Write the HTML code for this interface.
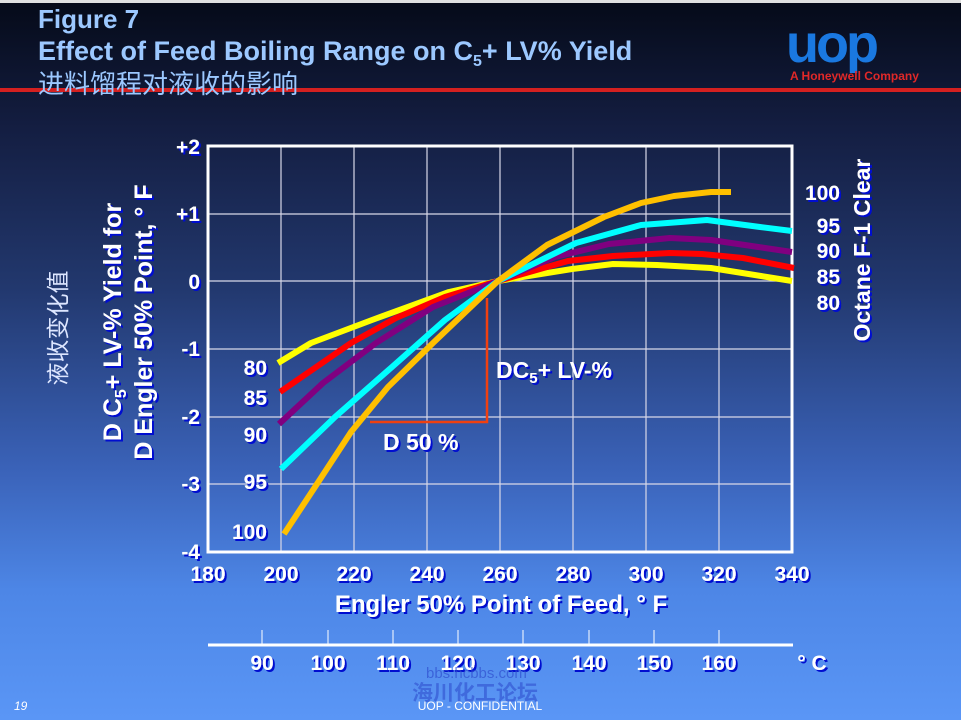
<!DOCTYPE html>
<html><head><meta charset="utf-8"><style>
body{margin:0;width:961px;height:720px;overflow:hidden;}
#bg{position:absolute;left:0;top:0;width:961px;height:720px;background:linear-gradient(180deg,#050a18 0%,#141e42 18%,#22386e 40%,#3a62b8 65%,#4d86e6 82%,#5a96f6 100%);}
svg{position:absolute;left:0;top:0;}
text{font-family:"Liberation Sans","Noto Sans CJK SC",sans-serif;}
.w{fill:#fff;font-weight:bold;font-size:21px;}
</style></head><body>
<div id="bg"></div>
<svg width="961" height="720" viewBox="0 0 961 720">
<defs>
<filter id="sh" x="-10%" y="-10%" width="130%" height="130%"><feOffset dx="2" dy="2" in="SourceAlpha" result="o"/><feFlood flood-color="#0010d0"/><feComposite in2="o" operator="in" result="b"/><feMerge><feMergeNode in="b"/><feMergeNode in="SourceGraphic"/></feMerge></filter>
</defs>
<rect x="0" y="0" width="961" height="3" fill="#e0e0e0"/>
<rect x="0" y="88" width="961" height="4" fill="#d42020"/>
<text x="38" y="28" fill="#9cc8ff" font-weight="bold" font-size="26">Figure 7</text>
<text x="38" y="60" fill="#9cc8ff" font-weight="bold" font-size="27">Effect of Feed Boiling Range on C<tspan font-size="16" dy="6">5</tspan><tspan dy="-6">+ LV% Yield</tspan></text>
<text x="38" y="93" fill="#9cc8ff" font-size="26">进料馏程对液收的影响</text>
<text x="786" y="62" fill="#1a78e0" font-weight="bold" font-size="54" letter-spacing="-3">uop</text>
<text x="790" y="80" fill="#e02828" font-weight="bold" font-size="12">A Honeywell Company</text>
<g stroke="#d8d8e8" stroke-width="1.2" fill="none">
<path d="M281 146V552M354 146V552M427 146V552M500 146V552M573 146V552M646 146V552M719 146V552"/>
<path d="M208 214H792M208 281H792M208 349H792M208 417H792M208 484H792"/>
</g>
<rect x="208" y="146" width="584" height="406" fill="none" stroke="#fff" stroke-width="3"/>
<path d="M487 298V422H370" fill="none" stroke="#f04010" stroke-width="2.5"/>
<g fill="none" stroke-width="6" stroke-linejoin="round" stroke-linecap="butt">
<polyline stroke="#ffff00" points="278,363 311,343 372,320 449,292 498,281 572,269 613,264 657,265 711,268 792,281"/>
<polyline stroke="#ff0000" points="280,392 351,343 396,318 445,297 498,281 568,261 613,256 670,253 702,254 743,258 794,268"/>
<polyline stroke="#800080" points="279,424 323,383 376,343 433,307 498,281 555,257 609,244 670,238 711,240 792,252"/>
<polyline stroke="#00ffff" points="281,469 335,417 392,367 445,320 498,281 576,243 641,225 707,220 760,227 792,231"/>
<polyline stroke="#ffc000" points="284,534 315,487 351,432 388,387 433,343 498,281 547,245 604,217 641,203 674,196 711,192 731,192"/>
</g>
<g filter="url(#sh)">
<g text-anchor="end">
<text x="200" y="154" class="w">+2</text>
<text x="200" y="221" class="w">+1</text>
<text x="200" y="289" class="w">0</text>
<text x="200" y="356" class="w">-1</text>
<text x="200" y="424" class="w">-2</text>
<text x="200" y="491" class="w">-3</text>
<text x="200" y="559" class="w">-4</text>
<text x="267" y="375" class="w">80</text>
<text x="267" y="405" class="w">85</text>
<text x="267" y="442" class="w">90</text>
<text x="267" y="489" class="w">95</text>
<text x="267" y="539" class="w">100</text>
<text x="840" y="200" class="w">100</text>
<text x="840" y="233" class="w">95</text>
<text x="840" y="258" class="w">90</text>
<text x="840" y="284" class="w">85</text>
<text x="840" y="310" class="w">80</text>
</g>
<g text-anchor="middle">
<text x="208" y="581" class="w">180</text><text x="281" y="581" class="w">200</text><text x="354" y="581" class="w">220</text><text x="427" y="581" class="w">240</text><text x="500" y="581" class="w">260</text><text x="573" y="581" class="w">280</text><text x="646" y="581" class="w">300</text><text x="719" y="581" class="w">320</text><text x="792" y="581" class="w">340</text>
<text x="501" y="612" class="w" style="font-size:24px">Engler 50% Point of Feed, ° F</text>
<text x="262" y="670" class="w">90</text><text x="328" y="670" class="w">100</text><text x="393" y="670" class="w">110</text><text x="458" y="670" class="w">120</text><text x="523" y="670" class="w">130</text><text x="589" y="670" class="w">140</text><text x="654" y="670" class="w">150</text><text x="719" y="670" class="w">160</text>
<text x="812" y="670" class="w">° C</text>
<text x="112" y="322" class="w" style="font-size:25px" transform="rotate(-90 112 322)" dy="9">D C<tspan font-size="16" dy="5">5</tspan><tspan dy="-5">+ LV-% Yield for</tspan></text>
<text x="143" y="322" class="w" style="font-size:25px" transform="rotate(-90 143 322)" dy="9">D Engler 50% Point, ° F</text>
<text x="862" y="250" class="w" style="font-size:23px" transform="rotate(-90 862 250)" dy="8">Octane F-1 Clear</text>
</g>
<text x="496" y="378" class="w" style="font-size:23px">DC<tspan font-size="15" dy="5">5</tspan><tspan dy="-5">+ LV-%</tspan></text>
<text x="383" y="450" class="w" style="font-size:23px">D 50 %</text>
</g>
<text x="58" y="328" fill="#dde6ff" font-size="23" text-anchor="middle" transform="rotate(-90 58 328)" dy="8">液收变化值</text>
<path d="M208 645H793" stroke="#fff" stroke-width="3"/>
<path d="M262 630V645M328 630V645M393 630V645M458 630V645M523 630V645M589 630V645M654 630V645M719 630V645" stroke="#fff" stroke-width="1"/>
<text x="426" y="678" fill="#3050d0" font-size="15" opacity="0.7">bbs.hcbbs.com</text>
<text x="412" y="700" fill="#3050d0" font-size="21" font-weight="bold" opacity="0.6">海川化工论坛</text>
<text x="14" y="710" fill="#fff" font-size="12" font-style="italic">19</text>
<text x="480" y="710" fill="#fff" font-size="12" text-anchor="middle">UOP - CONFIDENTIAL</text>
</svg>
</body></html>
